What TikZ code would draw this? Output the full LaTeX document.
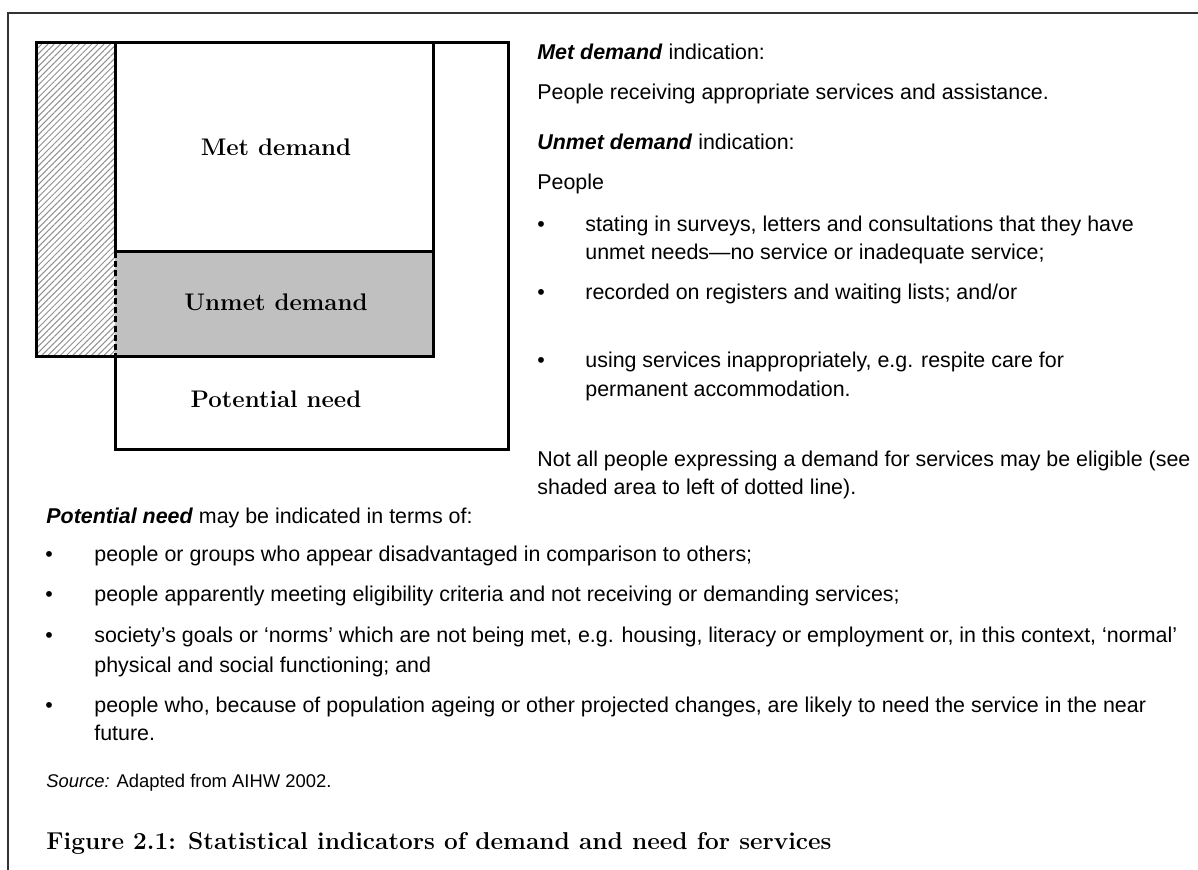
\documentclass[tikz,border=0pt]{standalone}
\usepackage{fontspec}
\newfontfamily\arial{Liberation Sans}
\usepackage{xcolor}
\usetikzlibrary{patterns.meta}

\definecolor{unmetgray}{HTML}{C0C0C0}
\definecolor{hatchgray}{HTML}{909090}

\tikzset{
  box/.style={line width=1.5pt},
  frame/.style={line width=1pt, draw=black!80},
  boxlabel/.style={font=\fontsize{12}{14}\selectfont\bfseries},
  body/.style={anchor=base west, inner sep=0pt, font=\arial\fontsize{10.7}{14}\selectfont},
  small/.style={anchor=base west, inner sep=0pt, font=\arial\fontsize{9.2}{11}\selectfont},
  title/.style={anchor=base west, inner sep=0pt, font=\fontsize{12.2}{14}\selectfont\bfseries},
}

\begin{document}
\begin{tikzpicture}[x=0.5pt,y=-0.5pt]

    \useasboundingbox (0,0) rectangle (1198,870);

    % Cadre de la figure (ouvert a droite et en bas)
    \draw[frame] (8,870) -- (8,13) -- (1198,13);

    % Definir les coins des boites
    \coordinate (hatchTL) at (36,43);
    \coordinate (hatchBR) at (115,357);
    \coordinate (metTL) at (115,43);
    \coordinate (metBR) at (433,252);
    \coordinate (unmetTL) at (115,252);
    \coordinate (unmetBR) at (433,357);
    \coordinate (potBR) at (508,450);

    % Remplissages
    \fill[pattern={Lines[angle=45,distance=2.2pt,line width=0.5pt]}, pattern color=hatchgray] (hatchTL) rectangle (hatchBR);
    \fill[unmetgray] (unmetTL) rectangle (unmetBR);

    % Contours
    \draw[box] (metTL) -- (metTL -| potBR) -- (potBR) -- (potBR -| hatchBR) -- (hatchBR);
    \draw[box] (hatchBR) -- (hatchBR -| hatchTL) -- (hatchTL) -- (metTL) -- (unmetTL);
    \draw[box] (unmetTL) -- (metBR) -- (metTL -| metBR);
    \draw[box] (metBR) -- (unmetBR) -- (hatchBR);
    \draw[box, dash pattern=on 3pt off 1.6pt] (unmetTL) -- (hatchBR);

    % Etiquettes des boites
    \node[boxlabel] (metlabel) at (276,147) {Met demand};
    \node[boxlabel] (unmetlabel) at (276,302) {Unmet demand};
    \node[boxlabel] (potlabel) at (276,399) {Potential need};

    % Colonne de droite
    \node[body] (metind) at (537,60) {\textbf{\textit{Met demand}} indication:};
    \node[body] (metdesc) at (537,100) {People receiving appropriate services and assistance.};
    \node[body] (unmetind) at (537,150) {\textbf{\textit{Unmet demand}} indication:};
    \node[body] (people) at (537,190) {People};
    \node[body] (dotA) at (537,232) {•};
    \node[body] (unmetA) at (585,232) {stating in surveys, letters and consultations that they have};
    \node[body] (unmetAb) at (585,260) {unmet needs—no service or inadequate service;};
    \node[body] (dotB) at (537,300) {•};
    \node[body] (unmetB) at (585,300) {recorded on registers and waiting lists; and/or};
    \node[body] (dotC) at (537,368) {•};
    \node[body] (unmetC) at (585,368) {using services inappropriately, e.g. respite care for};
    \node[body] (unmetCb) at (585,397) {permanent accommodation.};
    \node[body] (notall) at (537,467) {Not all people expressing a demand for services may be eligible (see};
    \node[body] (notallb) at (537,495) {shaded area to left of dotted line).};

    % Partie du bas
    \node[body] (potind) at (46,524) {\textbf{\textit{Potential need}} may be indicated in terms of:};
    \node[body] (dotD) at (45,562) {•};
    \node[body] (potA) at (94,562) {people or groups who appear disadvantaged in comparison to others;};
    \node[body] (dotE) at (45,602) {•};
    \node[body] (potB) at (94,602) {people apparently meeting eligibility criteria and not receiving or demanding services;};
    \node[body] (dotF) at (45,642) {•};
    \node[body] (potC) at (94,642) {society’s goals or ‘norms’ which are not being met, e.g. housing, literacy or employment or, in this context, ‘normal’};
    \node[body] (potCb) at (94,672) {physical and social functioning; and};
    \node[body] (dotG) at (45,712) {•};
    \node[body] (potD) at (94,712) {people who, because of population ageing or other projected changes, are likely to need the service in the near};
    \node[body] (potDb) at (94,740) {future.};

    % Source et titre
    \node[small] (source) at (46,787) {\textit{Source:} Adapted from AIHW 2002.};
    \node[title] (figtitle) at (46,849) {Figure 2.1: Statistical indicators of demand and need for services};
\end{tikzpicture}
\end{document}
